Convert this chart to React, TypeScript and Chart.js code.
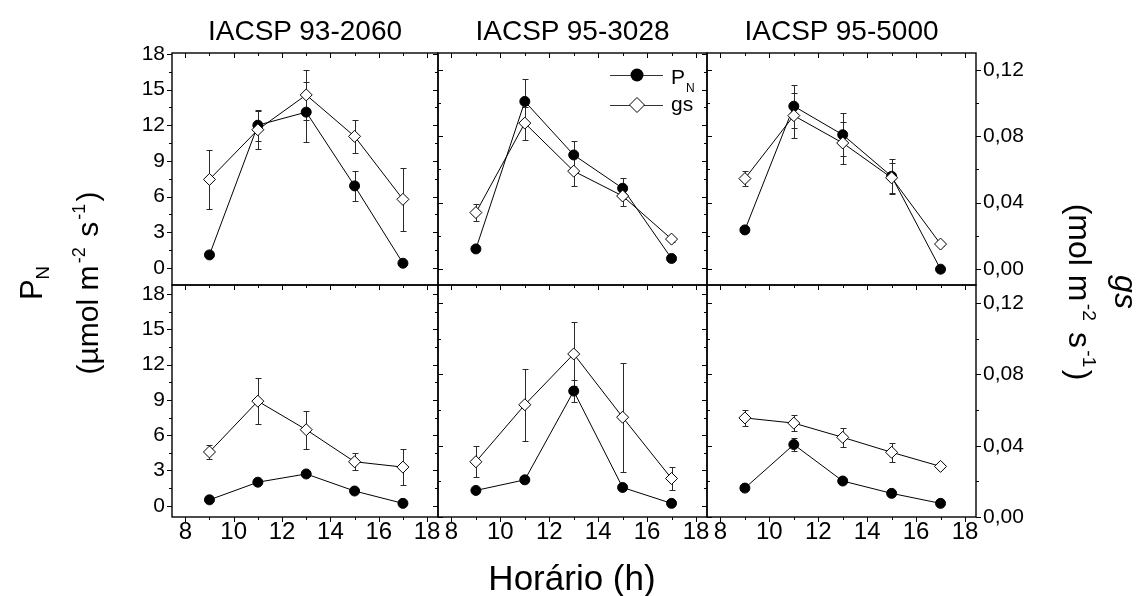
import React, { useEffect, useRef } from 'react';
import { Chart, registerables } from 'chart.js';

Chart.register(...registerables);

const FONT = '"Liberation Sans", Arial, Helvetica, sans-serif';
Chart.defaults.font.family = FONT;
Chart.defaults.color = '#000';

// ---------- categories & ticks ----------
const HOURS = [9, 11, 13, 15, 17];
const CULTIVARS = ['IACSP 93-2060', 'IACSP 95-3028', 'IACSP 95-5000'];
const X_TICKS = [8, 10, 12, 14, 16, 18];
const X_MINOR = [9, 11, 13, 15, 17];
const PN_TICKS = [0, 3, 6, 9, 12, 15, 18];
const PN_MINOR = [1.5, 4.5, 7.5, 10.5, 13.5, 16.5];
const GS_TICKS = [0, 0.04, 0.08, 0.12];
const GS_MINOR = [0.02, 0.06, 0.1];

// ---------- axis ranges ----------
const X_RANGE = [7.45, 18.45];
const PN_RANGE_TOP = [-1.43, 18.07];
const PN_RANGE_BOTTOM = [-0.96, 18.77];
const GS_RANGE_TOP = [-0.0097, 0.1303];
const GS_RANGE_BOTTOM = [0, 0.1302];

// ---------- top row data ----------
const PN_TOP_93 = [1.1, 12.0, 13.1, 6.9, 0.4];
const PN_TOP_93_ERR = [0.2, 1.3, 2.5, 1.25, 0.2];
const GS_TOP_93 = [0.054, 0.084, 0.105, 0.08, 0.042];
const GS_TOP_93_ERR = [0.0176, 0.0115, 0.015, 0.01, 0.019];

const PN_TOP_3028 = [1.6, 14.0, 9.5, 6.7, 0.8];
const PN_TOP_3028_ERR = [0.2, 1.9, 1.2, 0.9, 0.2];
const GS_TOP_3028 = [0.034, 0.088, 0.059, 0.044, 0.018];
const GS_TOP_3028_ERR = [0.005, 0.01, 0.009, 0.0063, 0.0015];

const PN_TOP_5000 = [3.2, 13.6, 11.2, 7.7, -0.1];
const PN_TOP_5000_ERR = [0.2, 1.8, 1.8, 1.5, 0.2];
const GS_TOP_5000 = [0.0545, 0.0925, 0.076, 0.055, 0.015];
const GS_TOP_5000_ERR = [0.0047, 0.0135, 0.0127, 0.009, 0.001];

// ---------- bottom row data ----------
const PN_BOT_93 = [0.5, 2.0, 2.7, 1.25, 0.2];
const PN_BOT_93_ERR = [0.15, 0.15, 0.15, 0.15, 0.15];
const GS_BOT_93 = [0.0365, 0.065, 0.049, 0.031, 0.028];
const GS_BOT_93_ERR = [0.004, 0.013, 0.0107, 0.0047, 0.01];

const PN_BOT_3028 = [1.3, 2.2, 9.75, 1.55, 0.2];
const PN_BOT_3028_ERR = [0.15, 0.15, 0.95, 0.15, 0.15];
const GS_BOT_3028 = [0.031, 0.063, 0.0915, 0.056, 0.0216];
const GS_BOT_3028_ERR = [0.0086, 0.0202, 0.018, 0.0306, 0.0064];

const PN_BOT_5000 = [1.5, 5.2, 2.1, 1.05, 0.2];
const PN_BOT_5000_ERR = [0.15, 0.57, 0.15, 0.15, 0.15];
const GS_BOT_5000 = [0.0556, 0.0527, 0.0447, 0.0363, 0.0284];
const GS_BOT_5000_ERR = [0.0045, 0.0046, 0.0052, 0.0053, 0.001];

// ---------- layout (pixels) ----------
const W = 1146;
const H = 596;
const COL_EDGES = [172, 438, 707, 976];
const ROW_EDGES = [53, 285, 517];

const PANELS = [
  { row: 0, col: 0, pn: PN_TOP_93, pnErr: PN_TOP_93_ERR, gs: GS_TOP_93, gsErr: GS_TOP_93_ERR },
  { row: 0, col: 1, pn: PN_TOP_3028, pnErr: PN_TOP_3028_ERR, gs: GS_TOP_3028, gsErr: GS_TOP_3028_ERR, legend: true },
  { row: 0, col: 2, pn: PN_TOP_5000, pnErr: PN_TOP_5000_ERR, gs: GS_TOP_5000, gsErr: GS_TOP_5000_ERR },
  { row: 1, col: 0, pn: PN_BOT_93, pnErr: PN_BOT_93_ERR, gs: GS_BOT_93, gsErr: GS_BOT_93_ERR },
  { row: 1, col: 1, pn: PN_BOT_3028, pnErr: PN_BOT_3028_ERR, gs: GS_BOT_3028, gsErr: GS_BOT_3028_ERR },
  { row: 1, col: 2, pn: PN_BOT_5000, pnErr: PN_BOT_5000_ERR, gs: GS_BOT_5000, gsErr: GS_BOT_5000_ERR },
];

const snap = (v: number) => Math.round(v) + 0.5;

const errorBars = {
  id: 'errorBars',
  beforeDatasetsDraw(chart: any) {
    const { ctx } = chart;
    ctx.save();
    ctx.strokeStyle = '#2a2a2a';
    ctx.lineWidth = 1;
    chart.data.datasets.forEach((ds: any) => {
      const ys = chart.scales[ds.yAxisID];
      ds.data.forEach((pt: any, i: number) => {
        const e = ds.errors[i];
        if (!e) return;
        const px = snap(chart.scales.x.getPixelForValue(pt.x));
        const y1 = snap(ys.getPixelForValue(pt.y + e));
        const y2 = snap(ys.getPixelForValue(pt.y - e));
        ctx.beginPath();
        ctx.moveTo(px, y1);
        ctx.lineTo(px, y2);
        ctx.moveTo(px - 3, y1);
        ctx.lineTo(px + 3, y1);
        ctx.moveTo(px - 3, y2);
        ctx.lineTo(px + 3, y2);
        ctx.stroke();
      });
    });
    ctx.restore();
  },
};

const frameTicks = {
  id: 'frameTicks',
  afterDatasetsDraw(chart: any) {
    const { ctx, chartArea: a } = chart;
    const { x, y, y2 } = chart.scales;
    ctx.save();
    ctx.strokeStyle = '#000';
    ctx.lineWidth = 1;
    ctx.beginPath();
    const seg = (x1: number, y1: number, x2: number, y2v: number) => {
      ctx.moveTo(x1, y1);
      ctx.lineTo(x2, y2v);
    };
    const inY = (p: number) => p >= a.top - 0.5 && p <= a.bottom + 0.5;
    X_TICKS.forEach((v) => {
      const px = snap(x.getPixelForValue(v));
      seg(px, a.bottom, px, a.bottom + 5);
      seg(px, a.top, px, a.top + 5);
    });
    X_MINOR.forEach((v) => {
      const px = snap(x.getPixelForValue(v));
      seg(px, a.bottom, px, a.bottom + 3);
      seg(px, a.top, px, a.top + 3);
    });
    PN_TICKS.forEach((v) => {
      const py = snap(y.getPixelForValue(v));
      if (inY(py)) seg(a.left - 5, py, a.left, py);
    });
    PN_MINOR.forEach((v) => {
      const py = snap(y.getPixelForValue(v));
      if (inY(py)) seg(a.left - 3, py, a.left, py);
    });
    GS_TICKS.forEach((v) => {
      const py = snap(y2.getPixelForValue(v));
      if (inY(py)) seg(a.right, py, a.right + 5, py);
    });
    GS_MINOR.forEach((v) => {
      const py = snap(y2.getPixelForValue(v));
      if (inY(py)) seg(a.right, py, a.right + 3, py);
    });
    ctx.stroke();
    ctx.lineWidth = 1.4;
    ctx.strokeRect(a.left, a.top, a.right - a.left, a.bottom - a.top);
    ctx.restore();
  },
};

const legendBox = {
  id: 'legendBox',
  afterDatasetsDraw(chart: any) {
    const { ctx, chartArea: a } = chart;
    const x0 = a.left + 172;
    const x1 = a.left + 225;
    const xm = a.left + 199;
    const tx = a.left + 233;
    const r1 = a.top + 22;
    const r2 = a.top + 52;
    ctx.save();
    ctx.strokeStyle = '#333';
    ctx.lineWidth = 1;
    ctx.beginPath();
    ctx.moveTo(x0, r1 + 0.5);
    ctx.lineTo(x1, r1 + 0.5);
    ctx.moveTo(x0, r2 + 0.5);
    ctx.lineTo(x1, r2 + 0.5);
    ctx.stroke();
    ctx.fillStyle = '#000';
    ctx.beginPath();
    ctx.arc(xm, r1, 6.5, 0, Math.PI * 2);
    ctx.fill();
    ctx.beginPath();
    ctx.moveTo(xm, r2 - 7.5);
    ctx.lineTo(xm + 7.5, r2);
    ctx.lineTo(xm, r2 + 7.5);
    ctx.lineTo(xm - 7.5, r2);
    ctx.closePath();
    ctx.fillStyle = '#fff';
    ctx.fill();
    ctx.strokeStyle = '#000';
    ctx.stroke();
    ctx.fillStyle = '#000';
    ctx.textBaseline = 'alphabetic';
    ctx.textAlign = 'left';
    ctx.font = `21px ${FONT}`;
    ctx.fillText('P', tx, r1 + 9);
    ctx.font = `12px ${FONT}`;
    ctx.fillText('N', tx + 15, r1 + 17);
    ctx.font = `21px ${FONT}`;
    ctx.fillText('gs', tx, r2 + 6);
    ctx.restore();
  },
};

const gsLabel = (v: number) => v.toFixed(2).replace('.', ',');

function Panel({ p }: { p: any }) {
  const ref = useRef<HTMLCanvasElement | null>(null);
  useEffect(() => {
    const L = COL_EDGES[p.col];
    const R = COL_EDGES[p.col + 1];
    const T = ROW_EDGES[p.row];
    const B = ROW_EDGES[p.row + 1];
    const showX = p.row === 1;
    const showY = p.col === 0;
    const showY2 = p.col === 2;
    const YW = 60;
    const Y2W = 80;
    const XH = 50;
    const pnRange = p.row === 0 ? PN_RANGE_TOP : PN_RANGE_BOTTOM;
    const gsRange = p.row === 0 ? GS_RANGE_TOP : GS_RANGE_BOTTOM;

    const xScale: any = {
      type: 'linear',
      position: 'bottom',
      min: X_RANGE[0],
      max: X_RANGE[1],
      display: showX,
      afterBuildTicks: (s: any) => {
        s.ticks = X_TICKS.map((v) => ({ value: v }));
      },
      ticks: { font: { size: 24, family: FONT }, color: '#000', padding: 1, maxRotation: 0, autoSkip: false },
      grid: { display: false, drawTicks: false },
      border: { display: false },
    };
    if (showX) xScale.afterFit = (s: any) => { s.height = XH; };

    const yScale: any = {
      type: 'linear',
      position: 'left',
      min: pnRange[0],
      max: pnRange[1],
      display: showY,
      afterBuildTicks: (s: any) => {
        s.ticks = PN_TICKS.map((v) => ({ value: v }));
      },
      ticks: { font: { size: 21, family: FONT }, color: '#000', padding: 7, autoSkip: false },
      grid: { display: false, drawTicks: false },
      border: { display: false },
    };
    if (showY) yScale.afterFit = (s: any) => { s.width = YW; };

    const y2Scale: any = {
      type: 'linear',
      position: 'right',
      min: gsRange[0],
      max: gsRange[1],
      display: showY2,
      afterBuildTicks: (s: any) => {
        s.ticks = GS_TICKS.map((v) => ({ value: v }));
      },
      ticks: {
        font: { size: 21, family: FONT },
        color: '#000',
        padding: 7,
        autoSkip: false,
        callback: (v: any) => gsLabel(Number(v)),
      },
      grid: { display: false, drawTicks: false },
      border: { display: false },
    };
    if (showY2) y2Scale.afterFit = (s: any) => { s.width = Y2W; };

    const chart = new Chart(ref.current as HTMLCanvasElement, {
      type: 'scatter',
      data: {
        datasets: [
          {
            label: 'gs',
            data: HOURS.map((h, i) => ({ x: h, y: p.gs[i] })),
            yAxisID: 'y2',
            order: 0,
            showLine: true,
            borderColor: '#000',
            borderWidth: 1,
            pointStyle: 'rectRot',
            pointRadius: 6,
            pointBackgroundColor: '#fff',
            pointBorderColor: '#000',
            pointBorderWidth: 1,
            errors: p.gsErr,
          } as any,
          {
            label: 'PN',
            data: HOURS.map((h, i) => ({ x: h, y: p.pn[i] })),
            yAxisID: 'y',
            order: 1,
            showLine: true,
            borderColor: '#000',
            borderWidth: 1,
            pointStyle: 'circle',
            pointRadius: 5,
            pointBackgroundColor: '#000',
            pointBorderColor: '#000',
            pointBorderWidth: 1,
            errors: p.pnErr,
          } as any,
        ],
      },
      options: {
        responsive: false,
        animation: false,
        events: [],
        layout: {
          padding: {
            left: L - (showY ? YW : 0),
            right: W - R - (showY2 ? Y2W : 0),
            top: T,
            bottom: H - B - (showX ? XH : 0),
          },
        },
        plugins: { legend: { display: false }, tooltip: { enabled: false }, title: { display: false } },
        scales: { x: xScale, y: yScale, y2: y2Scale },
      } as any,
      plugins: p.legend ? [errorBars, frameTicks, legendBox] : [errorBars, frameTicks],
    });
    return () => chart.destroy();
  }, [p]);
  return (
    <canvas
      ref={ref}
      width={W}
      height={H}
      style={{ position: 'absolute', left: 0, top: 0, width: W, height: H }}
    />
  );
}

function Label({ x, y, size, rotate = 0, italic = false, children }: any) {
  return (
    <div
      style={{
        position: 'absolute',
        left: x,
        top: y,
        transform: `translate(-50%, -50%) rotate(${rotate}deg)`,
        fontSize: size,
        lineHeight: 1,
        whiteSpace: 'nowrap',
        fontStyle: italic ? 'italic' : 'normal',
        color: '#000',
        fontFamily: FONT,
      }}
    >
      {children}
    </div>
  );
}

const Sup = ({ children }: any) => (
  <span style={{ fontSize: '0.6em', position: 'relative', top: '-0.75em', margin: '0 0.12em' }}>{children}</span>
);
const Sub = ({ children }: any) => (
  <span style={{ fontSize: '0.6em', position: 'relative', top: '0.35em' }}>{children}</span>
);

export default function App() {
  return (
    <div style={{ position: 'fixed', left: 0, top: 0, width: W, height: H, background: '#fff', overflow: 'hidden' }}>
      {PANELS.map((p, i) => (
        <Panel key={i} p={p} />
      ))}
      {CULTIVARS.map((c, i) => (
        <Label key={c} x={(COL_EDGES[i] + COL_EDGES[i + 1]) / 2} y={31} size={28}>
          {c}
        </Label>
      ))}
      <Label x={572} y={577} size={35}>
        Horário (h)
      </Label>
      <Label x={31} y={283} size={31} rotate={-90}>
        P<Sub>N</Sub>
      </Label>
      <Label x={88} y={283} size={30} rotate={-90}>
        (µmol m<Sup>-2</Sup> s<Sup>-1</Sup>)
      </Label>
      <Label x={1126} y={292} size={32} rotate={90} italic>
        gs
      </Label>
      <Label x={1080} y={292} size={32} rotate={90}>
        (mol m<Sup>-2</Sup> s<Sup>-1</Sup>)
      </Label>
    </div>
  );
}
